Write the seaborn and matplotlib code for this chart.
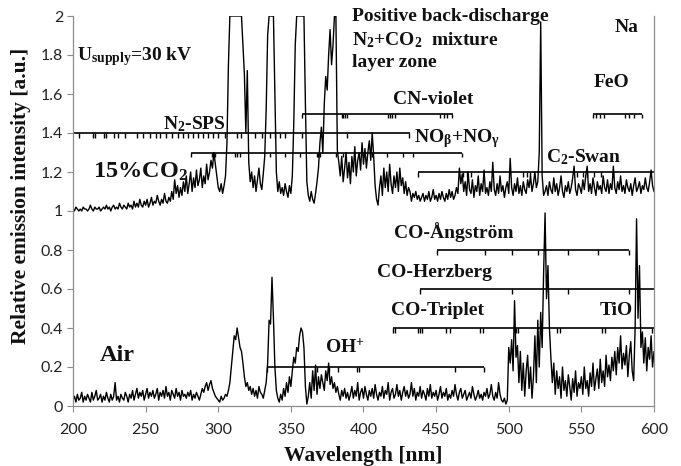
import numpy as np
import matplotlib
matplotlib.use("Agg")
import matplotlib.pyplot as plt
import seaborn as sns

# ---------------- data ----------------
wavelength = np.arange(200, 601)  # nm, 1 nm step

co2_15 = [
    1.01, 1.00, 1.02, 1.01, 1.00, 1.01, 1.00, 1.02, 1.01, 1.01,   # 200
    1.00, 1.01, 1.03, 1.01, 1.00, 1.02, 1.01, 1.01, 1.02, 1.00,   # 210
    1.01, 1.02, 1.01, 1.03, 1.01, 1.02, 1.00, 1.02, 1.03, 1.01,   # 220
    1.02, 1.01, 1.04, 1.02, 1.01, 1.03, 1.02, 1.01, 1.04, 1.02,   # 230
    1.03, 1.01, 1.05, 1.02, 1.04, 1.02, 1.06, 1.03, 1.02, 1.05,   # 240
    1.03, 1.06, 1.02, 1.04, 1.07, 1.03, 1.05, 1.04, 1.08, 1.05,   # 250
    1.03, 1.06, 1.04, 1.09, 1.05, 1.04, 1.07, 1.05, 1.10, 1.06,   # 260
    1.16, 1.09, 1.13, 1.07, 1.12, 1.08, 1.15, 1.10, 1.18, 1.09,   # 270
    1.14, 1.20, 1.10, 1.17, 1.12, 1.21, 1.13, 1.16, 1.22, 1.12,   # 280
    1.18, 1.14, 1.24, 1.16, 1.20, 1.26, 1.22, 1.30, 1.24, 1.18,   # 290
    1.12, 1.10, 1.14, 1.09, 1.13, 1.18, 1.35, 1.75, 2.00, 2.00,   # 300
    2.00, 2.00, 2.00, 2.00, 2.00, 2.00, 2.00, 1.85, 1.70, 1.40,   # 310
    1.72, 1.25, 1.15, 1.20, 1.12, 1.18, 1.10, 1.16, 1.22, 1.14,   # 320
    1.11, 1.19, 1.28, 1.52, 1.90, 2.00, 2.00, 2.00, 2.00, 1.60,   # 330
    1.20, 1.10, 1.15, 1.09, 1.12, 1.08, 1.14, 1.10, 1.07, 1.13,   # 340
    1.09, 1.18, 1.45, 1.85, 2.00, 2.00, 2.00, 2.00, 2.00, 2.00,   # 350
    1.55, 1.15, 1.08, 1.05, 1.10, 1.06, 1.04, 1.09, 1.15, 1.22,   # 360
    1.35, 1.43, 1.30, 1.55, 1.69, 1.62, 1.80, 1.93, 1.75, 1.85,   # 370
    2.00, 2.00, 1.31, 1.25, 1.18, 1.28, 1.15, 1.22, 1.30, 1.17,   # 380
    1.25, 1.14, 1.28, 1.20, 1.33, 1.18, 1.26, 1.30, 1.21, 1.35,   # 390
    1.24, 1.32, 1.22, 1.30, 1.36, 1.26, 1.40, 1.28, 1.13, 1.06,   # 400
    1.03, 1.12, 1.18, 1.08, 1.22, 1.12, 1.20, 1.10, 1.24, 1.14,   # 410
    1.09, 1.18, 1.12, 1.20, 1.10, 1.22, 1.13, 1.17, 1.09, 1.15,   # 420
    1.08, 1.12, 1.10, 1.05, 1.09, 1.07, 1.10, 1.06, 1.08, 1.05,   # 430
    1.07, 1.09, 1.05, 1.08, 1.06, 1.10, 1.05, 1.07, 1.11, 1.06,   # 440
    1.08, 1.05, 1.09, 1.06, 1.10, 1.07, 1.05, 1.09, 1.06, 1.11,   # 450
    1.07, 1.10, 1.06, 1.08, 1.12, 1.09, 1.22, 1.14, 1.19, 1.10,   # 460
    1.15, 1.08, 1.20, 1.11, 1.09, 1.16, 1.07, 1.13, 1.10, 1.18,   # 470
    1.08, 1.14, 1.10, 1.21, 1.09, 1.12, 1.08, 1.15, 1.10, 1.25,   # 480
    1.11, 1.08, 1.14, 1.09, 1.18, 1.10, 1.13, 1.07, 1.12, 1.15,   # 490
    1.09, 1.27, 1.12, 1.08, 1.14, 1.10, 1.17, 1.09, 1.13, 1.08,   # 500
    1.15, 1.11, 1.09, 1.16, 1.12, 1.18, 1.10, 1.14, 1.20, 1.12,   # 510
    1.15, 1.30, 1.97, 1.18, 1.08, 1.10, 1.13, 1.08, 1.15, 1.11,   # 520
    1.09, 1.17, 1.10, 1.14, 1.08, 1.12, 1.18, 1.10, 1.07, 1.13,   # 530
    1.10, 1.15, 1.09, 1.12, 1.17, 1.23, 1.11, 1.08, 1.14, 1.12,   # 540
    1.09, 1.16, 1.11, 1.18, 1.23, 1.10, 1.14, 1.09, 1.17, 1.12,   # 550
    1.08, 1.15, 1.11, 1.13, 1.09, 1.18, 1.12, 1.10, 1.16, 1.09,   # 560
    1.14, 1.11, 1.23, 1.12, 1.09, 1.15, 1.11, 1.18, 1.10, 1.13,   # 570
    1.09, 1.16, 1.12, 1.10, 1.14, 1.08, 1.13, 1.17, 1.10, 1.12,   # 580
    1.15, 1.09, 1.13, 1.11, 1.17, 1.12, 1.10, 1.15, 1.21, 1.13,   # 590
    1.10,                                                         # 600
]

air = [
    0.03, 0.05, 0.02, 0.06, 0.03, 0.04, 0.07, 0.02, 0.05, 0.03,   # 200
    0.06, 0.04, 0.02, 0.07, 0.03, 0.05, 0.08, 0.03, 0.04, 0.06,   # 210
    0.02, 0.05, 0.03, 0.07, 0.04, 0.02, 0.06, 0.03, 0.05, 0.12,   # 220
    0.03, 0.05, 0.02, 0.06, 0.04, 0.03, 0.07, 0.05, 0.02, 0.06,   # 230
    0.04, 0.08, 0.03, 0.06, 0.09, 0.04, 0.07, 0.05, 0.08, 0.03,   # 240
    0.06, 0.09, 0.04, 0.07, 0.05, 0.08, 0.04, 0.06, 0.09, 0.03,   # 250
    0.07, 0.05, 0.08, 0.04, 0.10, 0.05, 0.07, 0.03, 0.08, 0.06,   # 260
    0.04, 0.09, 0.05, 0.07, 0.03, 0.08, 0.05, 0.06, 0.04, 0.07,   # 270
    0.05, 0.08, 0.03, 0.06, 0.04, 0.07, 0.05, 0.03, 0.06, 0.09,   # 280
    0.07, 0.10, 0.12, 0.08, 0.11, 0.13, 0.09, 0.07, 0.05, 0.04,   # 290
    0.03, 0.02, 0.05, 0.03, 0.04, 0.06, 0.05, 0.08, 0.12, 0.20,   # 300
    0.28, 0.36, 0.34, 0.40, 0.35, 0.30, 0.28, 0.22, 0.15, 0.10,   # 310
    0.12, 0.08, 0.10, 0.06, 0.09, 0.05, 0.08, 0.04, 0.10, 0.07,   # 320
    0.06, 0.04, 0.08, 0.12, 0.22, 0.44, 0.42, 0.66, 0.45, 0.20,   # 330
    0.08, 0.04, 0.02, 0.06, 0.03, 0.09, 0.05, 0.12, 0.07, 0.15,   # 340
    0.10, 0.18, 0.25, 0.22, 0.30, 0.28, 0.36, 0.40, 0.38, 0.30,   # 350
    0.10, 0.01, 0.05, 0.12, 0.04, 0.18, 0.08, 0.21, 0.06, 0.15,   # 360
    0.09, 0.16, 0.12, 0.08, 0.18, 0.13, 0.22, 0.11, 0.15, 0.09,   # 370
    0.12, 0.07, 0.10, 0.06, 0.03, 0.08, 0.05, 0.09, 0.04, 0.07,   # 380
    0.03, 0.06, 0.10, 0.04, 0.08, 0.05, 0.12, 0.03, 0.07, 0.09,   # 390
    0.04, 0.10, 0.06, 0.03, 0.08, 0.05, 0.09, 0.04, 0.11, 0.06,   # 400
    0.03, 0.07, 0.05, 0.10, 0.04, 0.08, 0.06, 0.12, 0.03, 0.07,   # 410
    0.09, 0.04, 0.06, 0.11, 0.05, 0.08, 0.03, 0.07, 0.10, 0.05,   # 420
    0.08, 0.04, 0.06, 0.12, 0.05, 0.09, 0.03, 0.07, 0.05, 0.10,   # 430
    0.04, 0.08, 0.06, 0.03, 0.09, 0.05, 0.11, 0.04, 0.07, 0.05,   # 440
    0.08, 0.03, 0.06, 0.10, 0.04, 0.07, 0.05, 0.09, 0.03, 0.06,   # 450
    0.04, 0.08, 0.05, 0.11, 0.06, 0.03, 0.07, 0.09, 0.04, 0.06,   # 460
    0.08, 0.03, 0.05, 0.07, 0.04, 0.10, 0.06, 0.03, 0.05, 0.08,   # 470
    0.04, 0.06, 0.03, 0.07, 0.05, 0.09, 0.04, 0.06, 0.11, 0.05,   # 480
    0.03, 0.07, 0.04, 0.12, 0.06, 0.03, 0.02, 0.04, 0.01, 0.03,   # 490
    0.30, 0.22, 0.34, 0.18, 0.54, 0.25, 0.31, 0.12, 0.28, 0.08,   # 500
    0.22, 0.05, 0.18, 0.26, 0.09, 0.20, 0.04, 0.15, 0.36, 0.12,   # 510
    0.44, 0.20, 0.48, 0.30, 0.68, 0.99, 0.55, 0.72, 0.40, 0.25,   # 520
    0.12, 0.22, 0.06, 0.18, 0.09, 0.15, 0.04, 0.20, 0.08, 0.13,   # 530
    0.05, 0.16, 0.10, 0.03, 0.14, 0.07, 0.18, 0.05, 0.12, 0.09,   # 540
    0.15, 0.06, 0.20, 0.09, 0.13, 0.05, 0.17, 0.10, 0.22, 0.08,   # 550
    0.14, 0.19, 0.09, 0.24, 0.12, 0.18, 0.10, 0.26, 0.15, 0.21,   # 560
    0.13, 0.25, 0.18, 0.28, 0.16, 0.30, 0.22, 0.36, 0.19, 0.27,   # 570
    0.21, 0.31, 0.15, 0.26, 0.33, 0.18, 0.13, 0.40, 0.96, 0.45,   # 580
    0.72, 0.30, 0.38, 0.22, 0.35, 0.18, 0.30, 0.24, 0.36, 0.20,   # 590
    0.28,                                                         # 600
]

# band-system markers: level, start, end, band-head positions (nm)
no_level, no_range = 1.4, (200, 432)
no_heads = [204, 214, 215, 221, 223, 228, 231, 236, 244, 248, 253, 257, 260, 264,
            268, 272, 276, 279.4, 282.8, 286.3, 289.7, 293.1, 296.6, 300, 304.6,
            312.7, 316, 325.3, 330, 335.6, 339, 342.5, 346, 357.4, 388.4, 431]

n2_level, n2_range = 1.3, (281, 467.6)
n2_heads = [281, 296, 297.7, 311.5, 312.7, 315, 335.6, 346, 356, 367.8, 369, 370,
            381, 386, 405.6, 416, 427, 434, 467.6]

cn_level, cn_range = 1.5, (358, 461.6)
cn_heads = [358, 385.5, 386.2, 387.1, 388.3, 416.8, 418.1, 419.7, 421.6,
            453.0, 455.1, 457.8, 460.6]

feo_level, feo_range = 1.5, (558, 591.5)
feo_heads = [558, 560, 563, 565.5, 580, 583, 586, 591.5]

c2_level, c2_range = 1.2, (437.5, 600)
c2_heads = [437.5, 468.5, 471, 473.7, 510, 512.5, 514.6, 546.8, 551, 554,
            558.6, 563.6, 572]

ang_level, ang_range = 0.8, (450.6, 582.8)
ang_heads = [450.6, 483.5, 502, 520.4, 540.8, 561.5, 582.8]

herz_level, herz_range = 0.6, (439, 600)
herz_heads = [439, 502, 540.8, 582.8]

trip_level, trip_range = 0.4, (420, 600)
trip_heads = [420, 421.5, 437.5, 439, 440.6, 457, 459.5, 480, 482.3,
              505, 506.5, 533, 535, 564, 566, 598.6]

oh_level, oh_range = 0.2, (333.6, 483)
oh_heads = [333.6, 367.8, 376.5, 382.7, 395.3, 397.1, 463, 483]

x_ticks = [200, 250, 300, 350, 400, 450, 500, 550, 600]
y_ticks = [0, 0.2, 0.4, 0.6, 0.8, 1.0, 1.2, 1.4, 1.6, 1.8, 2.0]

# ---------------- style ----------------
sns.set_theme(style="white")
plt.rcParams["font.family"] = ["Lato", "DejaVu Sans"]
plt.rcParams["mathtext.fontset"] = "custom"
plt.rcParams["mathtext.rm"] = "Liberation Serif"
plt.rcParams["mathtext.bf"] = "Liberation Serif:bold"
plt.rcParams["mathtext.it"] = "Liberation Serif:italic"

fig = plt.figure(figsize=(6.81, 4.66), dpi=100)
ax = fig.add_axes([73 / 681, 60 / 466, 581 / 681, 390 / 466])

sns.lineplot(x=wavelength, y=co2_15, ax=ax, color="black", lw=1.0,
             estimator=None, sort=False)
sns.lineplot(x=wavelength, y=air, ax=ax, color="black", lw=1.0,
             estimator=None, sort=False)

tick_len = 0.025
for level, (x0, x1), heads in [
    (no_level, no_range, no_heads), (n2_level, n2_range, n2_heads),
    (cn_level, cn_range, cn_heads), (feo_level, feo_range, feo_heads),
    (c2_level, c2_range, c2_heads), (ang_level, ang_range, ang_heads),
    (herz_level, herz_range, herz_heads), (trip_level, trip_range, trip_heads),
    (oh_level, oh_range, oh_heads)]:
    ax.hlines(level, x0, x1, color="black", lw=1.2)
    ax.vlines(heads, level - tick_len, level, color="black", lw=1.0)

ax.set_xlim(200, 600)
ax.set_ylim(0, 2)
ax.set_xticks(x_ticks)
ax.set_yticks(y_ticks)
ax.set_xticklabels([f"{v:g}" for v in x_ticks])
ax.set_yticklabels([f"{v:g}" for v in y_ticks])
ax.tick_params(axis="both", direction="out", length=4, width=0.8,
               color="#8c8c8c", labelsize=11.5, labelcolor="#222222", pad=3)
ax.tick_params(axis="x", pad=8)
ax.tick_params(axis="y", left=True)
ax.tick_params(axis="x", bottom=True)
for side in ["left", "bottom", "right"]:
    ax.spines[side].set_color("#8c8c8c")
    ax.spines[side].set_linewidth(0.9)
ax.spines["top"].set_visible(False)
ax.grid(False)

serif = dict(family="Liberation Serif", weight="bold", color="#111111")
ax.set_xlabel("Wavelength [nm]", fontsize=15.5, **serif)
ax.set_ylabel("Relative emission intensity [a.u.]", fontsize=15.5, **serif)
ax.xaxis.set_label_coords(0.5, -0.103)
ax.yaxis.set_label_coords(-0.072, 0.54)

def label(x, y, s, size=14):
    ax.text(x, y, s, fontsize=size, ha="left", va="center", **serif)

label(202.8, 1.79, r"U$_{\mathbf{supply}}$=30 kV")
label(392, 1.995, "Positive back-discharge")
label(392, 1.877, r"N$_{\mathbf{2}}$+CO$_{\mathbf{2}}$  mixture")
label(392, 1.759, "layer zone")
label(573, 1.94, "Na")
label(558.7, 1.66, "FeO")
label(420.3, 1.57, "CN-violet")
label(262, 1.446, r"N$_{\mathbf{2}}$-SPS")
label(434.8, 1.374, r"NO$_{\mathbf{β}}$+NO$_{\mathbf{γ}}$")
label(525.6, 1.277, r"C$_{\mathbf{2}}$-Swan")
label(213.8, 1.2, r"15%CO$_{\mathbf{2}}$", size=17.5)
label(421, 0.892, "CO-Ångström")
label(409.3, 0.687, "CO-Herzberg")
label(419, 0.49, "CO-Triplet")
label(562.8, 0.49, "TiO")
label(218.6, 0.26, "Air", size=17.5)
label(373.5, 0.30, r"OH$^{\mathbf{+}}$")

fig.savefig("out.png", dpi=100)
